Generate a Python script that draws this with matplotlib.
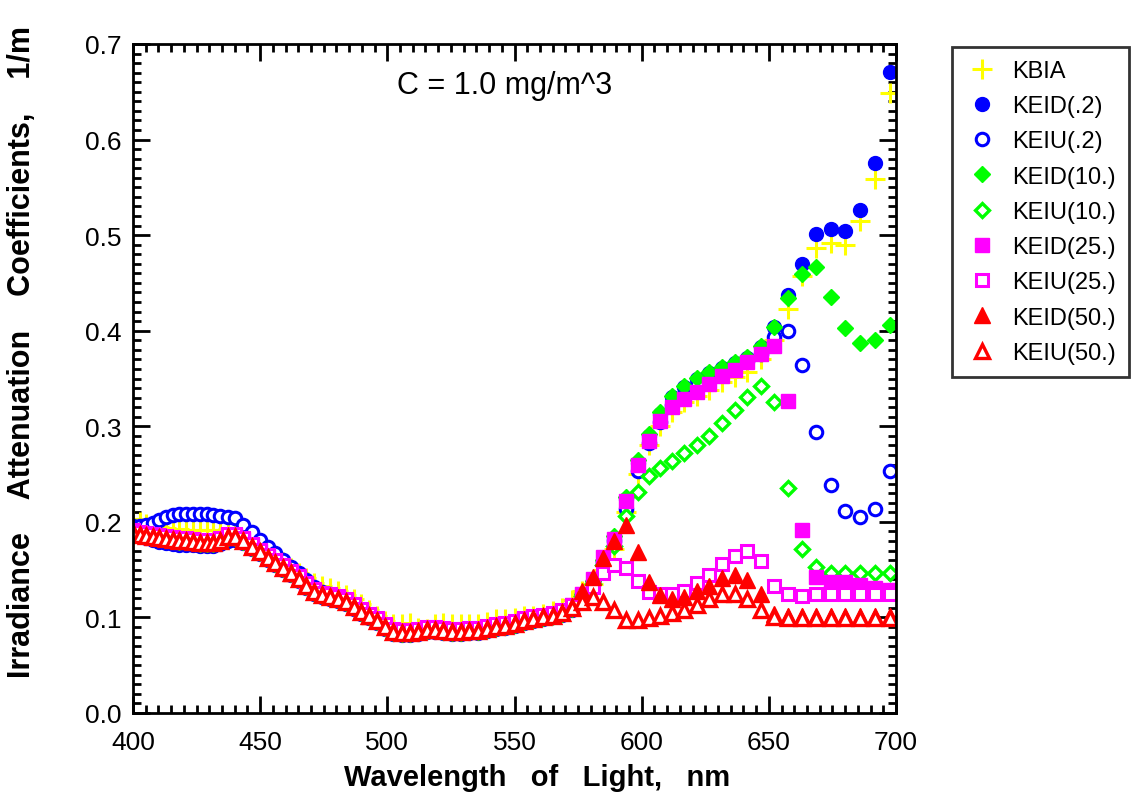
import matplotlib
matplotlib.use("Agg")
import matplotlib.pyplot as plt
from matplotlib.ticker import MultipleLocator, FormatStrFormatter

plt.rcParams['font.family'] = ['Liberation Sans', 'DejaVu Sans']

# Wavelength grid, nm
wavelength = [
    400.0, 402.6, 405.2, 407.8, 410.4, 413.0, 415.6, 418.2, 420.8, 423.5,
    426.2, 428.9, 431.6, 434.4, 437.3, 440.3, 443.4, 446.6, 449.8, 452.9,
    456.0, 459.1, 462.2, 465.2, 468.2, 471.2, 474.3, 477.4, 480.5, 483.6,
    486.7, 489.8, 492.9, 496.0, 499.2, 502.4, 505.6, 508.8, 512.1, 515.4,
    518.7, 522.0, 525.4, 528.8, 532.2, 535.7, 539.2, 542.8, 546.4, 550.0,
    553.7, 557.4, 561.2, 565.0, 568.8, 572.7, 576.7, 580.7, 584.7, 589.2,
    593.8, 598.4, 602.8, 607.4, 612.0, 616.8, 621.6, 626.5, 631.5, 636.6,
    641.6, 646.8, 652.2, 657.6, 663.0, 668.6, 674.3, 680.0, 685.8, 691.7,
    697.7,
]

kbia = [
    0.203, 0.200, 0.198, 0.196, 0.195, 0.194, 0.193, 0.193, 0.192, 0.192,
    0.191, 0.191, 0.191, 0.192, 0.193, 0.193, 0.188, 0.181, 0.175, 0.170,
    0.164, 0.158, 0.152, 0.147, 0.141, 0.136, 0.133, 0.131, 0.128, 0.123,
    0.119, 0.114, 0.108, 0.102, 0.096, 0.093, 0.093, 0.094, 0.089, 0.088,
    0.093, 0.094, 0.093, 0.093, 0.093, 0.093, 0.095, 0.098, 0.098, 0.099,
    0.101, 0.102, 0.104, 0.107, 0.110, 0.118, 0.128, 0.135, 0.150, 0.172,
    0.210, 0.250, 0.280, 0.300, 0.315, 0.325, 0.332, 0.338, 0.346, 0.352,
    0.357, 0.370, 0.390, 0.423, 0.457, 0.487, 0.492, 0.490, 0.515, 0.559,
    0.649,
]

keid_02 = [
    0.188, 0.186, 0.183, 0.181, 0.179, 0.178, 0.177, 0.176, 0.176, 0.176,
    0.175, 0.175, 0.175, 0.177, 0.180, 0.181, 0.178, 0.172, 0.166, 0.160,
    0.155, 0.150, 0.144, 0.138, 0.131, 0.125, 0.121, 0.119, 0.117, 0.114,
    0.109, 0.104, 0.099, 0.094, 0.088, 0.083, 0.082, 0.082, 0.083, 0.085,
    0.085, 0.084, 0.083, 0.083, 0.084, 0.084, 0.086, 0.088, 0.089, 0.091,
    0.094, 0.096, 0.098, 0.100, 0.103, 0.108, 0.122, 0.136, 0.158, 0.182,
    0.224, 0.262, 0.290, 0.313, 0.331, 0.341, 0.350, 0.356, 0.361, 0.366,
    0.371, 0.383, 0.404, 0.437, 0.470, 0.501, 0.506, 0.504, 0.526, 0.576,
    0.671,
]

keiu_02 = [
    0.196, 0.196, 0.197, 0.199, 0.202, 0.205, 0.207, 0.208, 0.208, 0.208,
    0.208, 0.208, 0.207, 0.206, 0.205, 0.204, 0.197, 0.189, 0.181, 0.174,
    0.167, 0.160, 0.153, 0.146, 0.139, 0.132, 0.127, 0.124, 0.121, 0.118,
    0.113, 0.108, 0.103, 0.097, 0.091, 0.086, 0.084, 0.084, 0.085, 0.087,
    0.087, 0.086, 0.085, 0.085, 0.086, 0.087, 0.089, 0.091, 0.092, 0.094,
    0.096, 0.098, 0.100, 0.103, 0.106, 0.111, 0.124, 0.138, 0.158, 0.180,
    0.213, 0.253, 0.283, 0.305, 0.322, 0.333, 0.343, 0.350, 0.356, 0.362,
    0.368, 0.376, 0.393, 0.400, 0.364, 0.294, 0.239, 0.211, 0.205, 0.213,
    0.253,
]

keid_10 = [
    0.187, 0.185, 0.184, 0.183, 0.182, 0.181, 0.180, 0.179, 0.179, 0.178,
    0.177, 0.177, 0.177, 0.179, 0.183, 0.183, 0.179, 0.173, 0.167, 0.161,
    0.156, 0.151, 0.145, 0.139, 0.132, 0.126, 0.122, 0.120, 0.118, 0.115,
    0.110, 0.105, 0.100, 0.095, 0.089, 0.084, 0.083, 0.083, 0.084, 0.086,
    0.086, 0.085, 0.084, 0.084, 0.085, 0.085, 0.087, 0.089, 0.090, 0.092,
    0.095, 0.097, 0.099, 0.101, 0.104, 0.109, 0.124, 0.138, 0.160, 0.185,
    0.226, 0.265, 0.292, 0.315, 0.332, 0.342, 0.351, 0.357, 0.362, 0.367,
    0.372, 0.384, 0.404, 0.434, 0.459, 0.467, 0.435, 0.403, 0.387, 0.390,
    0.406,
]

keiu_10 = [
    0.188, 0.186, 0.185, 0.184, 0.183, 0.182, 0.181, 0.180, 0.180, 0.179,
    0.178, 0.178, 0.178, 0.180, 0.184, 0.184, 0.180, 0.174, 0.168, 0.162,
    0.157, 0.152, 0.146, 0.140, 0.133, 0.127, 0.123, 0.121, 0.119, 0.116,
    0.111, 0.106, 0.101, 0.096, 0.090, 0.085, 0.084, 0.084, 0.085, 0.087,
    0.087, 0.086, 0.085, 0.085, 0.086, 0.086, 0.088, 0.090, 0.091, 0.093,
    0.096, 0.098, 0.100, 0.102, 0.105, 0.110, 0.122, 0.135, 0.155, 0.175,
    0.206, 0.231, 0.248, 0.256, 0.264, 0.272, 0.280, 0.290, 0.303, 0.317,
    0.331, 0.342, 0.325, 0.235, 0.172, 0.153, 0.146, 0.146, 0.146, 0.146,
    0.146,
]

keid_25 = [
    0.190, 0.188, 0.187, 0.186, 0.185, 0.184, 0.183, 0.182, 0.182, 0.181,
    0.180, 0.180, 0.180, 0.182, 0.186, 0.186, 0.182, 0.176, 0.170, 0.164,
    0.159, 0.154, 0.148, 0.142, 0.135, 0.129, 0.125, 0.123, 0.121, 0.118,
    0.113, 0.108, 0.103, 0.098, 0.092, 0.087, 0.086, 0.086, 0.087, 0.089,
    0.089, 0.088, 0.087, 0.087, 0.088, 0.088, 0.090, 0.092, 0.093, 0.095,
    0.098, 0.100, 0.102, 0.104, 0.107, 0.113, 0.125, 0.140, 0.163, 0.182,
    0.222, 0.260, 0.285, 0.306, 0.320, 0.329, 0.336, 0.344, 0.353, 0.359,
    0.367, 0.376, 0.384, 0.326, 0.192, 0.142, 0.137, 0.137, 0.134, 0.131,
    0.129,
]

keiu_25 = [
    0.191, 0.189, 0.188, 0.187, 0.186, 0.185, 0.184, 0.183, 0.183, 0.182,
    0.181, 0.181, 0.181, 0.183, 0.187, 0.187, 0.183, 0.177, 0.171, 0.165,
    0.160, 0.155, 0.149, 0.143, 0.136, 0.130, 0.126, 0.124, 0.122, 0.119,
    0.114, 0.109, 0.104, 0.099, 0.093, 0.088, 0.087, 0.087, 0.088, 0.090,
    0.090, 0.089, 0.088, 0.088, 0.089, 0.089, 0.091, 0.093, 0.094, 0.096,
    0.099, 0.101, 0.103, 0.105, 0.108, 0.113, 0.125, 0.132, 0.147, 0.155,
    0.152, 0.138, 0.127, 0.124, 0.124, 0.128, 0.136, 0.144, 0.156, 0.164,
    0.170, 0.159, 0.133, 0.124, 0.122, 0.124, 0.124, 0.124, 0.124, 0.124,
    0.124,
]

keid_50 = [
    0.189, 0.187, 0.186, 0.185, 0.184, 0.183, 0.182, 0.181, 0.181, 0.180,
    0.179, 0.179, 0.179, 0.181, 0.185, 0.185, 0.181, 0.175, 0.169, 0.163,
    0.158, 0.153, 0.147, 0.141, 0.134, 0.128, 0.124, 0.122, 0.120, 0.117,
    0.112, 0.107, 0.102, 0.097, 0.091, 0.086, 0.085, 0.085, 0.086, 0.088,
    0.088, 0.087, 0.086, 0.086, 0.087, 0.087, 0.089, 0.091, 0.092, 0.094,
    0.097, 0.099, 0.101, 0.103, 0.106, 0.112, 0.128, 0.142, 0.162, 0.180,
    0.197, 0.168, 0.137, 0.123, 0.119, 0.121, 0.128, 0.133, 0.141, 0.144,
    0.139, 0.125, 0.104, 0.101, 0.101, 0.101, 0.101, 0.101, 0.101, 0.101,
    0.101,
]

keiu_50 = [
    0.188, 0.186, 0.185, 0.184, 0.183, 0.182, 0.181, 0.180, 0.180, 0.179,
    0.178, 0.178, 0.178, 0.180, 0.184, 0.184, 0.180, 0.174, 0.168, 0.162,
    0.157, 0.152, 0.146, 0.140, 0.133, 0.127, 0.123, 0.121, 0.119, 0.116,
    0.111, 0.106, 0.101, 0.096, 0.090, 0.085, 0.084, 0.084, 0.085, 0.087,
    0.087, 0.086, 0.085, 0.085, 0.086, 0.086, 0.088, 0.090, 0.091, 0.093,
    0.096, 0.098, 0.100, 0.102, 0.105, 0.110, 0.116, 0.121, 0.116, 0.108,
    0.097, 0.097, 0.099, 0.102, 0.105, 0.108, 0.113, 0.119, 0.124, 0.124,
    0.119, 0.108, 0.100, 0.099, 0.099, 0.099, 0.099, 0.099, 0.099, 0.099,
    0.099,
]

series_names = ['KBIA', 'KEID(.2)', 'KEIU(.2)', 'KEID(10.)', 'KEIU(10.)',
                'KEID(25.)', 'KEIU(25.)', 'KEID(50.)', 'KEIU(50.)']
series_values = [kbia, keid_02, keiu_02, keid_10, keiu_10,
                 keid_25, keiu_25, keid_50, keiu_50]

YELLOW = '#FFFF00'
BLUE = '#0000FF'
GREEN = '#00FF00'
MAGENTA = '#FF00FF'
RED = '#FF0000'

styles = [
    dict(marker='+', color=YELLOW, ms=14, mew=2.2),
    dict(marker='o', color=BLUE, ms=10, mfc=BLUE, mec=BLUE, mew=1),
    dict(marker='o', color=BLUE, ms=9, mfc='white', mec=BLUE, mew=2.2),
    dict(marker='D', color=GREEN, ms=8.5, mfc=GREEN, mec=GREEN, mew=1),
    dict(marker='D', color=GREEN, ms=7.5, mfc='white', mec=GREEN, mew=2.4),
    dict(marker='s', color=MAGENTA, ms=10, mfc=MAGENTA, mec=MAGENTA, mew=1),
    dict(marker='s', color=MAGENTA, ms=9, mfc='white', mec=MAGENTA, mew=2.2),
    dict(marker='^', color=RED, ms=11, mfc=RED, mec=RED, mew=1),
    dict(marker='^', color=RED, ms=10, mfc='white', mec=RED, mew=2.4),
]

fig = plt.figure(figsize=(11.34, 8.04), dpi=100)
ax = fig.add_axes([133 / 1134, 1 - 714 / 804, (896 - 133) / 1134, (714 - 45) / 804])

handles = []
for name, vals, st in zip(series_names, series_values, styles):
    h, = ax.plot(wavelength, vals, linestyle='none', label=name, **st)
    handles.append(h)

ax.set_xlim(400, 700)
ax.set_ylim(0.0, 0.7)
ax.xaxis.set_major_locator(MultipleLocator(50))
ax.xaxis.set_minor_locator(MultipleLocator(5))
ax.yaxis.set_major_locator(MultipleLocator(0.1))
ax.yaxis.set_minor_locator(MultipleLocator(0.01))
ax.yaxis.set_major_formatter(FormatStrFormatter('%.1f'))
ax.tick_params(which='both', direction='in', top=True, right=True, width=2, colors='black')
ax.tick_params(which='major', length=12, labelsize=19)
ax.tick_params(axis='x', which='major', pad=12)
ax.tick_params(axis='y', which='major', pad=8)
ax.tick_params(which='minor', length=6)
for sp in ax.spines.values():
    sp.set_linewidth(2)

ax.text(505 / 1134, 1 - 86 / 804, 'C = 1.0 mg/m^3', transform=fig.transFigure,
        ha='center', va='center', fontsize=22)

fig.text(537 / 1134, 1 - 778 / 804, 'Wavelength   of   Light,   nm',
         ha='center', va='center', fontsize=21, fontweight='bold')
fig.text(22 / 1134, 1 - 352 / 804, 'Irradiance    Attenuation    Coefficients,    1/m',
         ha='center', va='center', rotation=90, fontsize=22, fontweight='bold')

leg = fig.legend(handles=handles, loc='upper left',
                 bbox_to_anchor=(952 / 1134, 1 - 48 / 804),
                 fontsize=17, frameon=True, fancybox=False, borderpad=0.55,
                 labelspacing=0.56, handletextpad=0.6, handlelength=1.4,
                 borderaxespad=0)
leg.get_frame().set_edgecolor('black')
leg.get_frame().set_linewidth(2)

fig.savefig('out.png', dpi=100)
